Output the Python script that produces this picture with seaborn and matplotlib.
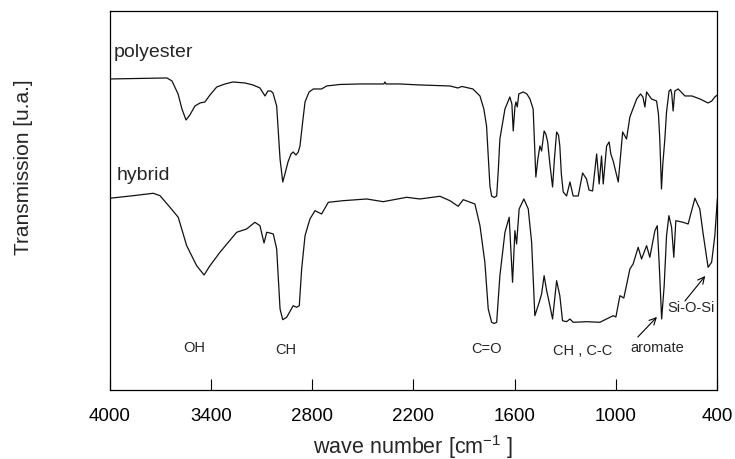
import numpy as np
import pandas as pd
import matplotlib
matplotlib.use("Agg")
import matplotlib.pyplot as plt
import seaborn as sns

# ---- data ----
poly_wn = [4000, 3819, 3660, 3630, 3594, 3571, 3547, 3524, 3494, 3464, 3435, 3405, 3365, 3316,
           3269, 3198, 3150, 3109, 3079, 3062, 3044, 3032, 3010, 2990, 2974, 2961, 2943, 2925,
           2912, 2896, 2882, 2872, 2854, 2842, 2818, 2793, 2744, 2714, 2635, 2517, 2375, 2369,
           2363, 2280, 2162, 1984, 1937, 1913, 1848, 1806, 1783, 1767, 1747, 1737, 1722, 1707, 1697,
           1688, 1658, 1629, 1617, 1609, 1599, 1593, 1585, 1576, 1550, 1528, 1510, 1491, 1475,
           1463, 1451, 1441, 1426, 1416, 1405, 1392, 1376, 1365, 1352, 1341, 1333, 1324, 1313,
           1293, 1273, 1254, 1224, 1198, 1175, 1160, 1139, 1115, 1100, 1086, 1076, 1056, 1041,
           1031, 1017, 987, 961, 938, 918, 878, 855, 841, 829, 819, 790, 760, 749, 741, 731,
           723, 711, 701, 686, 676, 670, 662, 652, 632, 592, 551, 503, 455, 433, 415, 400]
poly_t = [311, 311.5, 312, 309, 296, 281, 270, 275, 284, 287, 288, 295, 303, 306,
          308, 307, 305, 302, 294, 299, 299, 297, 284, 231, 208, 216, 228, 236,
          238, 235, 238, 244, 271, 288, 298, 301, 301, 304, 305.5, 306, 306, 308,
          306, 306, 305, 304, 302, 303.5, 301, 294, 281, 264, 204, 194, 192.5, 194, 221,
          251, 281, 293, 286, 259, 283, 288, 283, 296, 298, 296, 291, 281, 213,
          231, 244, 239, 259, 256, 248, 226, 203, 231, 258, 255, 244, 216, 198,
          194, 208, 194, 194, 217, 211, 200, 199, 236, 206, 234, 206, 244, 248,
          236, 229, 208, 258, 251, 273, 291, 296, 293, 283, 298, 291, 289, 276, 251, 201,
          226, 251, 278, 299, 300.5, 296, 279, 299, 301, 294, 294, 291, 287, 289, 293, 295]

hyb_wn = [4000, 3859, 3741, 3701, 3642, 3593, 3543, 3484, 3440, 3405, 3346, 3247, 3188, 3139,
          3109, 3085, 3069, 3050, 3030, 3010, 2990, 2974, 2951, 2912, 2892, 2876, 2862, 2842,
          2813, 2783, 2744, 2704, 2616, 2477, 2379, 2240, 2162, 2043, 1984, 1935, 1905, 1836,
          1806, 1777, 1757, 1737, 1722, 1707, 1688, 1658, 1633, 1613, 1599, 1589, 1574, 1546, 1520,
          1500, 1481, 1455, 1441, 1426, 1411, 1396, 1376, 1352, 1333, 1317, 1293, 1273, 1254,
          1174, 1096, 1017, 1001, 977, 954, 918, 899, 869, 849, 819, 800, 770, 756, 745, 730,
          715, 701, 687, 671, 658, 646, 603, 573, 533, 504, 484, 455, 434, 415, 400]
hyb_t = [191.7, 194.3, 196.7, 194.3, 182.7, 172.7, 144.3, 124.3, 115, 124.3, 137.7, 157.7, 161, 167.7,
         164.3, 147, 157.7, 157, 156, 141, 81, 70.3, 72.7, 84.3, 82.7, 84.3, 121, 154.3,
         171, 179.3, 176, 187.7, 189.3, 191, 188.3, 192.7, 191, 193.7, 189.3, 183.7, 190.3, 186,
         164.3, 127.7, 81, 67.7, 66.5, 67.7, 114.3, 157.7, 172.7, 107.7, 159.3, 146, 181, 191, 181,
         147.7, 74.3, 87.7, 96, 114.3, 99.3, 87.7, 71, 109.3, 94.3, 69.3, 68.3, 71, 67.7,
         68.3, 67.7, 74.3, 73, 94.3, 92, 121, 126, 142.7, 131, 144.3, 132.7, 159.3, 164.3, 127.7, 71,
         104.3, 154.3, 174.3, 162.7, 132.7, 169.3, 167.7, 166, 191.7, 181, 156, 122.7, 127.7, 154.3, 191]

x_ticks = [4000, 3400, 2800, 2200, 1600, 1000, 400]

# ---- style ----
sns.set_theme(style="ticks")
plt.rcParams["font.family"] = ["Liberation Sans", "DejaVu Sans"]
plt.rcParams["mathtext.fontset"] = "custom"
plt.rcParams["mathtext.rm"] = "Liberation Sans"
plt.rcParams["mathtext.it"] = "Liberation Sans"

fig = plt.figure(figsize=(7.35, 4.6), dpi=100)
ax = fig.add_axes([0.149, 0.15, 0.827, 0.824])

df = pd.concat([
    pd.DataFrame({"wn": poly_wn, "T": poly_t, "sample": "polyester"}),
    pd.DataFrame({"wn": hyb_wn, "T": hyb_t, "sample": "hybrid"}),
])
sns.lineplot(data=df, x="wn", y="T", units="sample", estimator=None, sort=False,
             color="#111111", linewidth=0.9, legend=False, ax=ax)

ax.set_xlim(4000, 400)
ax.set_ylim(0, 379)
ax.set_xticks(x_ticks)
ax.set_xticklabels([str(t) for t in x_ticks])
ax.set_yticks([])
ax.tick_params(axis="x", direction="in", length=8, width=0.8, pad=12,
               labelsize=13.5, colors="black")
for s in ax.spines.values():
    s.set_visible(True)
    s.set_linewidth(0.9)
    s.set_color("black")

ax.set_xlabel("wave number [cm$^{\\mathregular{-1}}$ ]", fontsize=15.5)
ax.xaxis.set_label_coords(0.5, -0.112)
ax.set_ylabel("Transmission [u.a.]", fontsize=15)
ax.yaxis.set_label_coords(-0.126, 0.591)

# series labels
ax.text(3973, 338, "polyester", fontsize=14, ha="left", va="center")
ax.text(3956, 215, "hybrid", fontsize=14, ha="left", va="center")

# band annotations
ann = dict(fontsize=10.5, ha="center", va="center")
ax.text(3500, 43, "OH", **ann)
ax.text(2957, 41, "CH", **ann)
ax.text(1767, 42, "C=O", **ann)
ax.text(1196, 40, "CH , C-C", **ann)
ax.text(758, 43, "aromate", **ann)
ax.text(553, 83, "Si-O-Si", **ann)
ax.annotate("", xy=(758, 73), xytext=(871, 53),
            arrowprops=dict(arrowstyle="->", lw=0.8, color="black", shrinkA=0, shrinkB=0))
ax.annotate("", xy=(472, 114), xytext=(592, 89),
            arrowprops=dict(arrowstyle="->", lw=0.8, color="black", shrinkA=0, shrinkB=0))

fig.savefig("out.png", dpi=100)
